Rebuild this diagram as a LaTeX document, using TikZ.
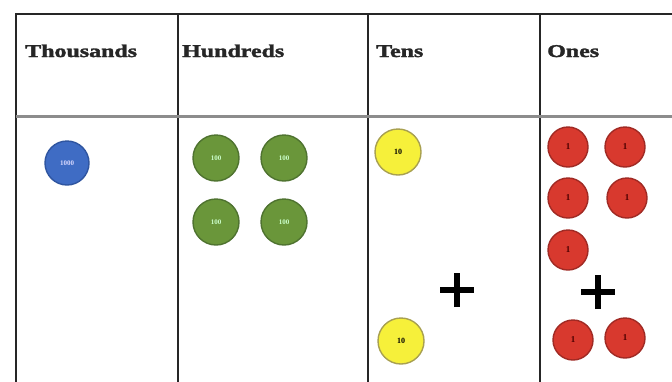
\documentclass[tikz,border=0pt]{standalone}
\usepackage{fontspec}
\setmainfont{Liberation Serif}
\newfontfamily\headfont{Liberation Serif}[UprightFont={* Bold},FakeBold=1.6]
\definecolor{thoublue}{HTML}{3F6CC4}
\definecolor{thouedge}{HTML}{2F55A0}
\definecolor{hundgreen}{HTML}{6A963A}
\definecolor{hundedge}{HTML}{4F7330}
\definecolor{tenyellow}{HTML}{F6F03A}
\definecolor{tenedge}{HTML}{A8A050}
\definecolor{onered}{HTML}{D8392E}
\definecolor{oneedge}{HTML}{A02A24}
\begin{document}
\begin{tikzpicture}[x=1pt,y=-1pt,
  grid/.style={line width=2.2pt,black!85},
  sep/.style={line width=3pt,black!45},
  head/.style={anchor=base west,inner sep=0pt,font=\fontsize{18}{18}\selectfont\headfont,xscale=1.33,text=black!85},
  chip/.style={circle,minimum size=#1,inner sep=0pt,line width=1.4pt},
  thou/.style={chip=44pt,fill=thoublue,draw=thouedge,text=white!85!blue,font=\fontsize{7}{7}\selectfont\bfseries},
  hund/.style={chip=46pt,fill=hundgreen,draw=hundedge,text=white!80!green,font=\fontsize{7}{7}\selectfont\bfseries},
  tenc/.style={chip=46pt,fill=tenyellow,draw=tenedge,text=black,font=\fontsize{8}{8}\selectfont\bfseries},
  onec/.style={chip=40pt,fill=onered,draw=oneedge,text=black!70!red,font=\fontsize{9}{9}\selectfont\bfseries},
  plus/.style={line width=5.5pt,black}
]
\useasboundingbox (0,0) rectangle (672,381);
\fill[white] (0,0) rectangle (672,381);
% table
\draw[grid] (16,390) -- (16,14) -- (680,14);
\draw[grid] (178,14) -- (178,390);
\draw[grid] (368,14) -- (368,390);
\draw[grid] (540,14) -- (540,390);
\draw[sep] (16,116) -- (680,116);
% headers
\node[head] (h1) at (25,57) {Thousands};
\node[head] (h2) at (182,57) {Hundreds};
\node[head] (h3) at (376,57) {Tens};
\node[head] (h4) at (547,57) {Ones};
% thousands
\node[thou] (t1) at (67,163) {1000};
% hundreds
\node[hund] (u1) at (216,158) {100};
\node[hund] (u2) at (284,158) {100};
\node[hund] (u3) at (216,222) {100};
\node[hund] (u4) at (284,222) {100};
% tens
\node[tenc] (e1) at (398,152) {10};
\node[tenc] (e2) at (401,341) {10};
\coordinate (p1) at (457,290);
\draw[plus] ([xshift=-17pt]p1) -- ([xshift=17pt]p1);
\draw[plus] ([yshift=-17pt]p1) -- ([yshift=17pt]p1);
% ones
\node[onec] (o1) at (568,147) {1};
\node[onec] (o2) at (625,147) {1};
\node[onec] (o3) at (568,198) {1};
\node[onec] (o4) at (627,198) {1};
\node[onec] (o5) at (568,250) {1};
\coordinate (p2) at (598,292);
\draw[plus] ([xshift=-17pt]p2) -- ([xshift=17pt]p2);
\draw[plus] ([yshift=-17pt]p2) -- ([yshift=17pt]p2);
\node[onec] (o6) at (573,340) {1};
\node[onec] (o7) at (625,338) {1};
\end{tikzpicture}
\end{document}
